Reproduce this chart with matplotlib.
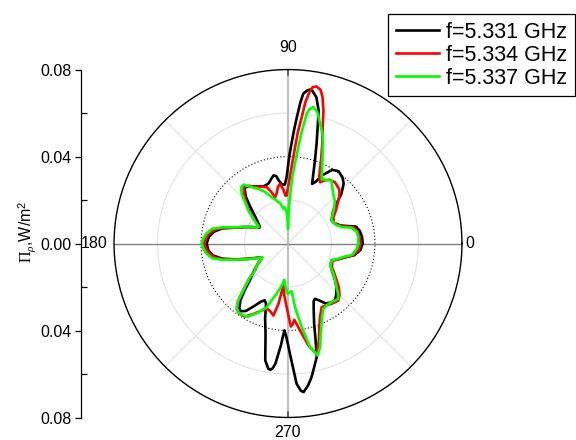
import numpy as np
import matplotlib
matplotlib.use("Agg")
import matplotlib.pyplot as plt

plt.rcParams['font.family'] = ['Liberation Sans', 'DejaVu Sans']
plt.rcParams['mathtext.fontset'] = 'custom'
plt.rcParams['mathtext.rm'] = 'Liberation Serif'
plt.rcParams['mathtext.it'] = 'Liberation Serif:italic'
plt.rcParams['mathtext.sf'] = 'Liberation Sans'

# radiation pattern (angle in degrees, value in W/m^2)
black_theta = [0, 5, 10, 14, 16, 19, 24, 28, 32, 36, 40, 43, 47, 50, 55, 59, 63, 66, 68,
               70, 72, 74, 77, 79, 81, 82, 83, 84.2, 85, 86, 87, 88, 89, 90, 91, 93, 95.5,
               98, 100, 102, 104, 108, 113, 119, 124, 128, 132, 136, 140, 144, 148, 151,
               155, 159, 163, 167, 171, 175, 180, 185, 189, 193, 197, 201, 205, 208, 212,
               216, 220, 224, 227, 230, 233, 235, 238, 242, 245, 247.8, 250, 253, 256, 259,
               261, 262, 263, 264, 266, 267.6, 269, 271, 273.5, 275, 276, 278, 280, 282,
               284.2, 286, 288, 291, 294, 296, 299, 302, 306, 310, 314, 318, 322, 326, 330,
               334, 339, 343, 347, 350, 355, 360]
black_r = [0.0343, 0.0342, 0.0335, 0.0322, 0.029, 0.0255, 0.0232, 0.0227, 0.024, 0.0257,
           0.0295, 0.0336, 0.0375, 0.0392, 0.0406, 0.0395, 0.0355, 0.031, 0.0296,
           0.034, 0.0401, 0.0477, 0.0627, 0.0685, 0.0712, 0.0715, 0.0708, 0.0692, 0.065,
           0.0582, 0.052, 0.0459, 0.041, 0.0355, 0.031, 0.0272, 0.0272,
           0.029, 0.0315, 0.032, 0.031, 0.029, 0.0286, 0.030, 0.0318, 0.0325, 0.029,
           0.024, 0.020, 0.0173, 0.0155, 0.015,
           0.018, 0.0211, 0.025, 0.031, 0.0345, 0.0365, 0.0374, 0.0368, 0.035, 0.031,
           0.025, 0.0195, 0.0155, 0.0135, 0.0155,
           0.018, 0.021, 0.0244, 0.029, 0.034, 0.0372, 0.038, 0.0366, 0.0323, 0.0295,
           0.0282, 0.0295, 0.036, 0.0427, 0.0548,
           0.0582, 0.0587, 0.0578, 0.0556, 0.047, 0.040, 0.043, 0.0507, 0.0646, 0.068,
           0.0687, 0.066, 0.0624, 0.058,
           0.0539, 0.046, 0.0389, 0.033, 0.029, 0.0283, 0.030, 0.0325, 0.0336, 0.0338,
           0.032, 0.030, 0.0275, 0.025, 0.023,
           0.0218, 0.0215, 0.0245, 0.0275, 0.031, 0.0335, 0.0343]

red_theta = [0, 5, 10, 14, 17, 21, 25, 30, 35, 40.5, 44, 47, 52.5, 57, 60, 62.4, 65, 68.3,
             71, 73.4, 75, 76.7, 78, 79.7, 81, 81.8, 83, 83.8, 85, 85.8, 87, 88.8, 90.3,
             91.6, 93, 95, 97.6, 100, 103, 105.7, 108, 110.7, 115, 120, 124, 128, 132,
             136.5, 140, 144, 148, 150.5, 153, 156, 159, 163, 166, 169, 173, 177, 180,
             183, 187, 191, 194, 197, 201, 205, 208, 211, 215, 219.3, 222, 225.4, 228.9,
             231.8, 235, 239.5, 244, 248.5, 252.7, 256, 258.5, 261, 263.7, 266, 268.8,
             271, 272, 273.5, 274.7, 276, 277.9, 281.3, 284.6, 287.7, 290, 293.5, 297.9,
             302, 306, 311.4, 315, 319, 323, 327, 332, 338.5, 343, 347, 350, 355, 360]
red_r = [0.0332, 0.0331, 0.0325, 0.031, 0.027, 0.024, 0.0232, 0.0241, 0.027, 0.0304,
         0.033, 0.0344, 0.0355, 0.035, 0.0335, 0.0318, 0.034, 0.0411,
         0.0484, 0.0558, 0.063, 0.0691, 0.0722, 0.0734, 0.0728, 0.0711, 0.0655, 0.0584,
         0.051, 0.0444, 0.037, 0.029, 0.025,
         0.0221, 0.022, 0.025, 0.0277, 0.0265, 0.0235, 0.0221, 0.025, 0.0277, 0.0288,
         0.030, 0.032, 0.0332, 0.030,
         0.0262, 0.0232, 0.0198, 0.0168, 0.0153, 0.016, 0.0183, 0.0213, 0.0252, 0.030,
         0.034, 0.0366, 0.038, 0.0386,
         0.038, 0.0366, 0.034, 0.030, 0.025, 0.0198, 0.0158, 0.0135, 0.0145, 0.0175,
         0.0198, 0.024, 0.0284, 0.035,
         0.0382, 0.0392, 0.039, 0.036, 0.0331, 0.0315, 0.0325, 0.0338, 0.0281, 0.0194,
         0.024, 0.0293,
         0.035, 0.0382, 0.037, 0.0352, 0.037, 0.0404, 0.0478, 0.0524, 0.0468, 0.042,
         0.0369, 0.0331,
         0.0335, 0.0342, 0.035, 0.0335, 0.031, 0.028, 0.0255, 0.0228, 0.022, 0.0245,
         0.0275, 0.0305, 0.0328, 0.0332]

green_theta = [0, 5, 10, 14, 17, 21, 27.8, 30, 33.6, 38, 42, 47.6, 52, 55.3, 59, 62.5, 65,
               67.5, 70, 72, 74.2, 76, 77.5, 79.5, 81, 81.8, 83, 83.9, 85, 86.3, 87.5,
               88.4, 89.5, 90, 90.5, 93, 95.8, 98, 101, 103, 106, 109.4, 114, 118.5, 123,
               127.1, 130, 133, 136.5, 140.2, 144, 147.9, 150.5, 153, 156, 159, 163, 166,
               169, 173, 177, 180, 183, 187, 191, 194, 197, 201, 205, 208, 211, 215, 219.3,
               222, 225.4, 228.9, 231.5, 234, 237, 241.5, 246, 251.5, 254, 257.3, 261,
               264.2, 266, 268, 269.6, 272, 274.4, 276.3, 279.3, 282, 284.8, 287.2, 290,
               292.7, 295, 298.4, 302, 306.7, 312.3, 315, 318, 322, 326.2, 332, 338.7,
               343, 347, 350, 355.6, 360]
green_r = [0.0323, 0.0325, 0.032, 0.030, 0.0258, 0.0238, 0.0227, 0.0232, 0.0247, 0.027,
           0.029, 0.0309, 0.033, 0.0352, 0.034, 0.0335, 0.037,
           0.0413, 0.047, 0.052, 0.0556, 0.059, 0.062, 0.0638, 0.0625, 0.0602, 0.052,
           0.0445, 0.037, 0.0306, 0.022,
           0.0167, 0.010, 0.0067, 0.010, 0.015, 0.0168, 0.0163, 0.019, 0.0195, 0.021,
           0.0226, 0.026, 0.0286, 0.031,
           0.034, 0.0335, 0.0312, 0.027, 0.0237, 0.020, 0.017, 0.0155, 0.016, 0.0185,
           0.0215, 0.0255, 0.031,
           0.0355, 0.0378, 0.0392, 0.0397, 0.0392, 0.0378, 0.0355, 0.031, 0.0255, 0.020,
           0.016, 0.0135, 0.0145, 0.0175, 0.0196,
           0.024, 0.0282, 0.0348, 0.0378, 0.039, 0.0392, 0.0382, 0.035, 0.0309, 0.027,
           0.0237, 0.020,
           0.0168, 0.019, 0.0215, 0.0231, 0.0225, 0.022, 0.0294, 0.039, 0.0487, 0.0533,
           0.0499, 0.044,
           0.040, 0.037, 0.0341, 0.0335, 0.0336, 0.0344, 0.0325, 0.030, 0.0275, 0.0251,
           0.022, 0.0215,
           0.024, 0.0268, 0.030, 0.0317, 0.0323]

series = [
    ("f=5.331 GHz", black_theta, black_r, "black"),
    ("f=5.334 GHz", red_theta, red_r, "#ff0000"),
    ("f=5.337 GHz", green_theta, green_r, "#00ff00"),
]

rmax = 0.08
left_ticks = [-0.08, -0.04, 0.0, 0.04, 0.08]
minor_ticks = [-0.06, -0.02, 0.02, 0.06]

fig = plt.figure(figsize=(5.76, 4.40), dpi=100)

# polar part, centred at (288, 243) px, radius 174 px
ax = fig.add_axes([0.198, 0.0511, 0.604, 0.7909], projection="polar")
ax.set_ylim(0, rmax)
ax.set_xticks([])
ax.set_yticks([])
ax.grid(False)
ax.spines["polar"].set_linewidth(1.0)
ax.spines["polar"].set_color("black")

t = np.linspace(0, 2 * np.pi, 400)
for rr in [0.02, 0.06]:
    ax.plot(t, np.full_like(t, rr), color="#e3e3e3", lw=0.8, zorder=1)
ax.plot(t, np.full_like(t, 0.04), color="black", lw=0.8, ls=(0, (1, 2)), zorder=1)
for ang in [45, 135, 225, 315]:
    ax.plot([np.deg2rad(ang)] * 2, [0, rmax], color="#e3e3e3", lw=0.8, zorder=1)
ax.plot([0, 0], [0, rmax], color="#808080", lw=1.0, zorder=1)
ax.plot([np.pi, np.pi], [0, rmax], color="#808080", lw=1.0, zorder=1)
ax.plot([np.pi / 2] * 2, [0, rmax], color="#b4b4b4", lw=1.2, zorder=1)
ax.plot([1.5 * np.pi] * 2, [0, rmax], color="#b4b4b4", lw=1.2, zorder=1)
for ang in [90, 270]:
    ax.plot([np.deg2rad(ang)] * 2, [0.0775, rmax], color="#505050", lw=1.2, zorder=2)

for label, th, r, col in series:
    ax.plot(np.deg2rad(th), r, color=col, lw=1.9, label=label, zorder=3,
            solid_joinstyle="round")

fs = 11.5
ax.text(np.deg2rad(90), 0.0869, "90", ha="center", va="bottom", fontsize=fs, clip_on=False)
ax.text(np.deg2rad(270), 0.0836, "270", ha="center", va="top", fontsize=fs, clip_on=False)
ax.text(0, 0.0818, "0", ha="left", va="center", fontsize=fs, clip_on=False)
ax.text(np.pi, 0.0828, "180", ha="right", va="center", fontsize=fs, clip_on=False)

# left linear scale
ax2 = fig.add_axes([0.1406, 0.0511, 0.01, 0.7909])
ax2.patch.set_visible(False)
for s in ["right", "top", "bottom"]:
    ax2.spines[s].set_visible(False)
ax2.spines["left"].set_linewidth(0.9)
ax2.set_ylim(-rmax, rmax)
ax2.set_xticks([])
ax2.set_yticks(left_ticks)
ax2.set_yticklabels([f"{abs(v):.2f}" for v in left_ticks], fontsize=fs)
ax2.set_yticks(minor_ticks, minor=True)
ax2.tick_params(axis="y", which="major", direction="out", length=4, width=0.9, pad=3)
ax2.tick_params(axis="y", which="minor", direction="in", length=4, width=0.9)

fig.text(27 / 576, 1 - 232 / 440, r"$\Pi_{\rho}$,W/m$^{\mathsf{2}}$", rotation=90,
         ha="center", va="center", fontsize=fs)

handles, labels = ax.get_legend_handles_labels()
leg = fig.legend(handles, labels, loc="upper right", bbox_to_anchor=(575 / 576, 1 - 14 / 440),
                 borderaxespad=0, fancybox=False, framealpha=1, edgecolor="black",
                 fontsize=15.5, handlelength=2.0, handletextpad=0.35, labelspacing=0.1,
                 borderpad=0.35)
leg.get_frame().set_linewidth(0.9)

fig.savefig("out.png", dpi=100)
